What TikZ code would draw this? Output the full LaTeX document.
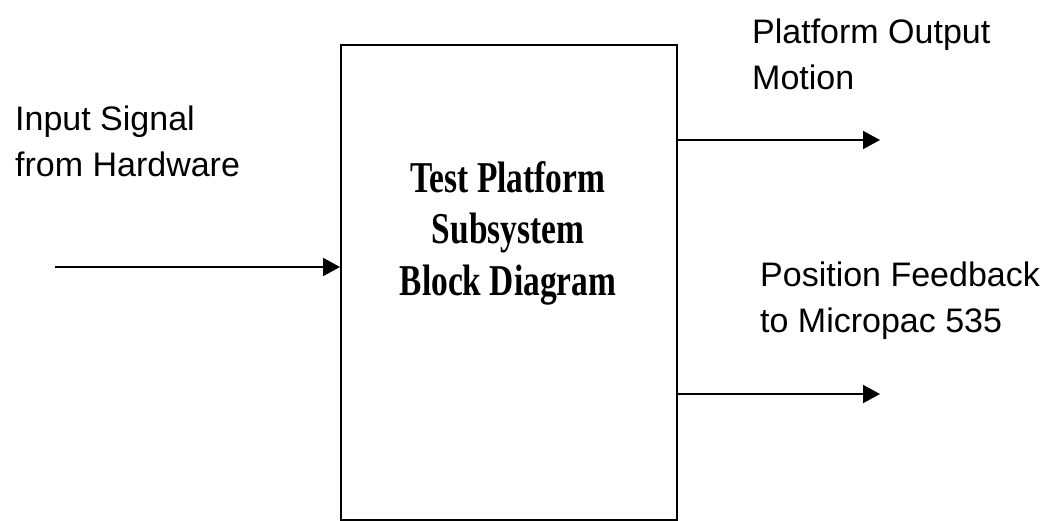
\documentclass[tikz,border=0pt]{standalone}
\usepackage{fontspec}
\setmainfont{Liberation Sans}
\newfontfamily\titlefont[FakeStretch=0.76]{Liberation Serif}
\usetikzlibrary{arrows.meta,positioning}

\tikzset{
    label text/.style={inner sep=0pt, anchor=base west, align=left,
        font=\fontsize{34}{46}\selectfont},
    signal/.style={line width=2pt, -{Triangle[length=17pt,width=18pt]}}
}

\begin{document}
\begin{tikzpicture}[x=1pt, y=-1pt]
    \useasboundingbox[fill=white] (0,0) rectangle (1051,521);

    % Subsystem block
    \node[draw, line width=2pt, minimum width=336pt, minimum height=475pt,
        anchor=north west, inner sep=0pt] (platform) at (340,44) {};
    \node[inner sep=0pt, align=center, anchor=base,
        font=\titlefont\bfseries\fontsize{44}{51.5}\selectfont]
        (title) at (508,295) {Test Platform\\Subsystem\\Block Diagram};

    % Input side
    \coordinate (in) at (55,267);
    \draw[signal] (in) -- (platform.west |- in);
    \node[label text] (inlabel) at (15,177) {Input Signal\\from Hardware};

    % Output side
    \coordinate (motion) at (880,140);
    \coordinate (feedback) at (880,394);
    \draw[signal] (platform.east |- motion) -- (motion);
    \draw[signal] (platform.east |- feedback) -- (feedback);
    \node[label text] (motionlabel) at (752,90) {Platform Output\\Motion};
    \node[label text] (feedbacklabel) at (760,332) {Position Feedback\\to Micropac 535};
\end{tikzpicture}
\end{document}
